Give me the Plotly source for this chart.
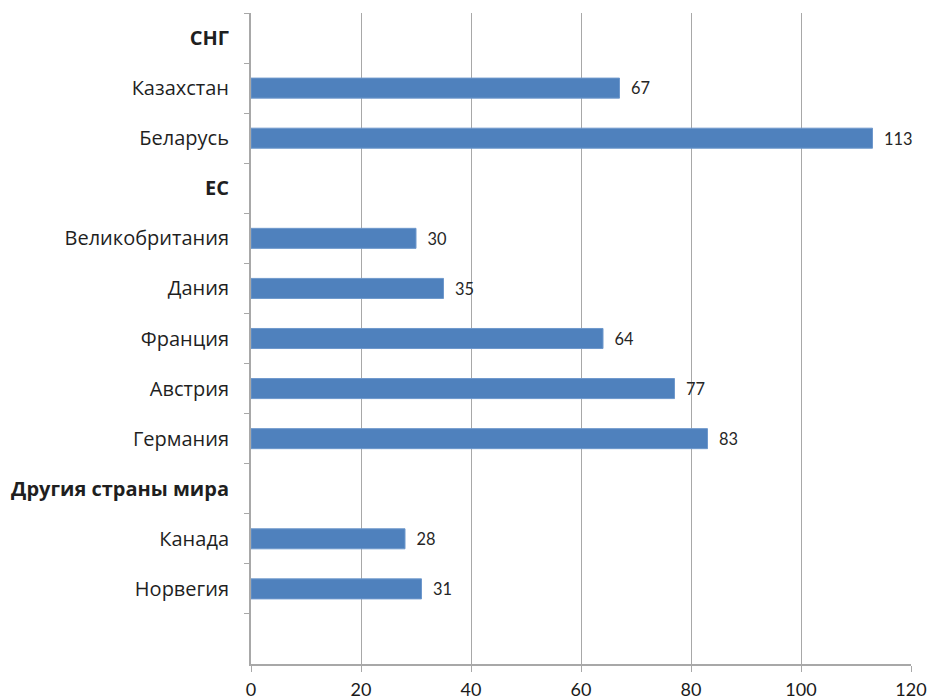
import plotly.graph_objects as go

categories = ["<b>СНГ</b>", "Казахстан", "Беларусь", "<b>ЕС</b>", "Великобритания", "Дания",
              "Франция", "Австрия", "Германия", "<b>Другия страны мира</b>", "Канада", "Норвегия", " "]
values = [None, 67, 113, None, 30, 35, 64, 77, 83, None, 28, 31, None]
x_ticks = [0, 20, 40, 60, 80, 100, 120]

labels = [("\u00a0\u00a0" + str(v)) if v is not None else "" for v in values]

fig = go.Figure(go.Bar(
    x=values, y=categories, orientation="h",
    width=0.4,
    marker=dict(color="#4f81bd", line=dict(color="#6e98cc", width=1)),
    text=labels, textposition="outside", cliponaxis=False,
    textfont=dict(family="Lato, Open Sans, sans-serif", size=18, color="#262626"),
))

fig.update_layout(
    width=931, height=700,
    margin=dict(l=251, r=20, t=13, b=36),
    plot_bgcolor="white", paper_bgcolor="white",
    showlegend=False,
    bargap=0.6,
)
fig.update_xaxes(
    range=[0, 120], tickvals=x_ticks, showgrid=True, gridcolor="#a8a8a8", gridwidth=1,
    showline=True, linecolor="#a8a8a8", linewidth=2, ticks="outside", ticklen=6, tickcolor="#a8a8a8",
    tickfont=dict(family="Lato, Open Sans, sans-serif", size=18, color="#1a1a1a"),
    ticklabelstandoff=2,
    zeroline=False, fixedrange=True, automargin=False,
)
fig.update_yaxes(
    type="category", categoryorder="array", categoryarray=categories,
    autorange="reversed", tickson="boundaries",
    showline=True, linecolor="#a8a8a8", linewidth=2, ticks="outside", ticklen=5, tickcolor="#a8a8a8",
    showgrid=False, ticklabelstandoff=16, automargin=False,
    tickfont=dict(family="Open Sans, sans-serif", size=20, color="#1f1f1f"),
)

fig.write_html("out.html")
